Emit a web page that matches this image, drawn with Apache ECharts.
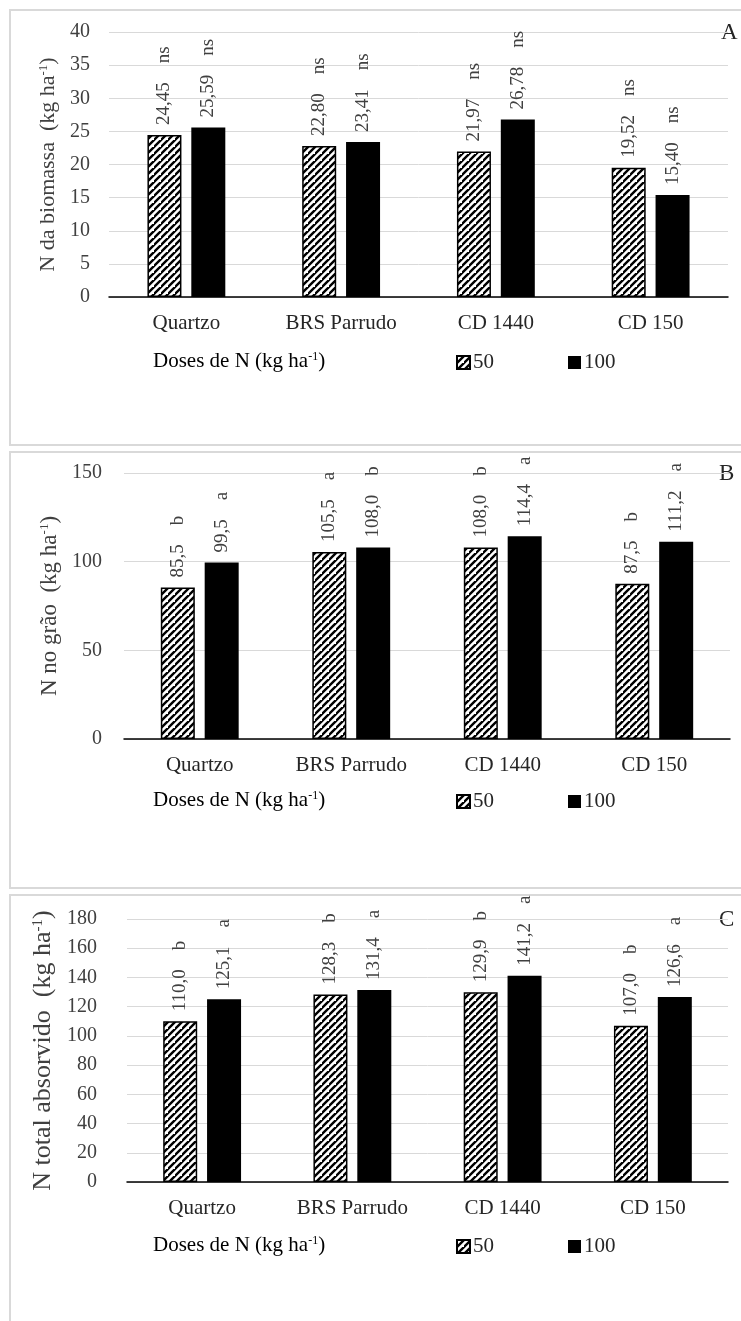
<!DOCTYPE html>
<html>
<head>
<meta charset="utf-8">
<script src="https://cdn.jsdelivr.net/npm/echarts@6/dist/echarts.min.js"></script>
<style>
html,body{margin:0;padding:0;background:#fff;}
#chart{width:741px;height:1321px;}
</style>
</head>
<body>
<div id="chart"></div>
<script>
// ---- data ----
const categories = ['Quartzo', 'BRS Parrudo', 'CD 1440', 'CD 150'];
const seriesNames = ['50', '100'];

const biomassa50 = [24.45, 22.80, 21.97, 19.52];
const biomassa100 = [25.59, 23.41, 26.78, 15.40];
const biomassaLetters50 = ['ns', 'ns', 'ns', 'ns'];
const biomassaLetters100 = ['ns', 'ns', 'ns', 'ns'];

const grao50 = [85.5, 105.5, 108.0, 87.5];
const grao100 = [99.5, 108.0, 114.4, 111.2];
const graoLetters50 = ['b', 'a', 'b', 'b'];
const graoLetters100 = ['a', 'b', 'a', 'a'];

const total50 = [110.0, 128.3, 129.9, 107.0];
const total100 = [125.1, 131.4, 141.2, 126.6];
const totalLetters50 = ['b', 'b', 'b', 'b'];
const totalLetters100 = ['a', 'a', 'a', 'a'];

const axisA = { min: 0, max: 40, interval: 5 };
const axisB = { min: 0, max: 150, interval: 50 };
const axisC = { min: 0, max: 180, interval: 20 };

// ---- styles ----
const FONT = 'Liberation Serif';
function makeHatch() {
  const T = 7;
  const c = document.createElement('canvas');
  c.width = T; c.height = T;
  const g = c.getContext('2d');
  g.fillStyle = '#fff';
  g.fillRect(0, 0, T, T);
  g.strokeStyle = '#000';
  g.lineWidth = 2.4;
  g.beginPath();
  g.moveTo(-1, T + 1); g.lineTo(T + 1, -1);
  g.moveTo(-T - 1, T + 1); g.lineTo(1, -1);
  g.moveTo(T - 1, 2 * T + 1); g.lineTo(2 * T + 1, T - 1);
  g.stroke();
  return { image: c, repeat: 'repeat' };
}
const hatch = makeHatch();

const panels = [
  { top: 32, height: 265, left: 109, right: 13, axis: axisA, dec: 2,
    d50: biomassa50, d100: biomassa100, l50: biomassaLetters50, l100: biomassaLetters100,
    name: 'N da biomassa  (kg ha', nameSize: 22, nameGap: 46, labelMargin: 19,
    legendY: 363, letter: 'A', letterX: 721 },
  { top: 473, height: 266, left: 124, right: 11, axis: axisB, dec: 1,
    d50: grao50, d100: grao100, l50: graoLetters50, l100: graoLetters100,
    name: 'N no grão  (kg ha', nameSize: 23, nameGap: 61, labelMargin: 22,
    legendY: 802, letter: 'B', letterX: 719 },
  { top: 919, height: 263, left: 127, right: 13, axis: axisC, dec: 1,
    d50: total50, d100: total100, l50: totalLetters50, l100: totalLetters100,
    name: 'N total absorvido  (kg ha', nameSize: 26, nameGap: 55, labelMargin: 30,
    legendY: 1247, letter: 'C', letterX: 719 }
];

function fmt(v, dec) { return v.toFixed(dec).replace('.', ','); }

const grid = [], xAxis = [], yAxis = [], series = [], legend = [], graphic = [];

// panel frames
graphic.push({ type: 'rect', shape: { x: 10, y: 10, width: 760, height: 435 }, style: { fill: 'none', stroke: '#d9d9d9', lineWidth: 2 }, silent: true, z: -1 });
graphic.push({ type: 'rect', shape: { x: 10, y: 452, width: 760, height: 436 }, style: { fill: 'none', stroke: '#d9d9d9', lineWidth: 2 }, silent: true, z: -1 });
graphic.push({ type: 'rect', shape: { x: 10, y: 895, width: 760, height: 500 }, style: { fill: 'none', stroke: '#d9d9d9', lineWidth: 2 }, silent: true, z: -1 });

panels.forEach((p, i) => {
  grid.push({ left: p.left, right: p.right, top: p.top, height: p.height, containLabel: false });
  xAxis.push({
    type: 'category', gridIndex: i, data: categories,
    axisLine: { lineStyle: { color: '#000', width: 1.5 } },
    axisTick: { show: false },
    axisLabel: { fontFamily: FONT, fontSize: 21, color: '#262626', margin: 16 }
  });
  yAxis.push({
    type: 'value', gridIndex: i, min: p.axis.min, max: p.axis.max, interval: p.axis.interval,
    axisLine: { show: false }, axisTick: { show: false },
    splitLine: { lineStyle: { color: '#d9d9d9', width: 1 } },
    axisLabel: { fontFamily: FONT, fontSize: 20, color: '#404040', margin: p.labelMargin },
    name: '{t|' + p.name + '}{s|-1}{t|)}',
    nameLocation: 'middle', nameRotate: 90, nameGap: p.nameGap,
    nameTextStyle: {
      fontFamily: FONT, fontSize: p.nameSize, color: '#404040',
      rich: {
        t: { fontFamily: FONT, fontSize: p.nameSize, color: '#404040' },
        s: { fontFamily: FONT, fontSize: Math.round(p.nameSize * 0.58), color: '#404040', verticalAlign: 'top', padding: [0, 0, 10, 0] }
      }
    }
  });
  const mk = (name, data, letters, style) => ({
    type: 'bar', name: name, xAxisIndex: i, yAxisIndex: i, data: data,
    barWidth: 34, barGap: '29%',
    itemStyle: style,
    label: {
      show: true, position: 'top', rotate: 90, align: 'left', verticalAlign: 'middle',
      distance: 10, fontFamily: FONT, fontSize: 19, color: '#404040',
      formatter: (q) => fmt(q.value, p.dec) + '    ' + letters[q.dataIndex]
    },
    emphasis: { disabled: true }, animation: false
  });
  series.push(mk(seriesNames[0], p.d50, p.l50, { color: hatch, borderColor: '#000', borderWidth: 1.5 }));
  series.push(mk(seriesNames[1], p.d100, p.l100, { color: '#000' }));
  legend.push({
    data: seriesNames, left: 456, top: p.legendY - 11, padding: 0, itemWidth: 13, itemHeight: 13, itemGap: 74,
    icon: 'rect', selectedMode: false,
    textStyle: { fontFamily: FONT, fontSize: 21, color: '#262626', padding: [0, 0, 0, -2] }
  });
  graphic.push({
    type: 'text', left: 153, top: p.legendY - 12,
    style: {
      text: '{t|Doses de N (kg ha}{s|-1}{t|)}',
      rich: {
        t: { fontFamily: FONT, fontSize: 21, color: '#262626' },
        s: { fontFamily: FONT, fontSize: 12, color: '#262626', verticalAlign: 'top', padding: [0, 0, 9, 0] }
      }
    }
  });
  graphic.push({
    type: 'text', left: p.letterX, top: p.top - 11,
    style: { text: p.letter, fontFamily: FONT, fontSize: 23, fill: '#262626' }
  });
});

const chart = echarts.init(document.getElementById('chart'), null, { renderer: 'canvas' });
chart.setOption({
  backgroundColor: '#fff',
  animation: false,
  grid, xAxis, yAxis, series, legend, graphic
});
</script>
</body>
</html>
